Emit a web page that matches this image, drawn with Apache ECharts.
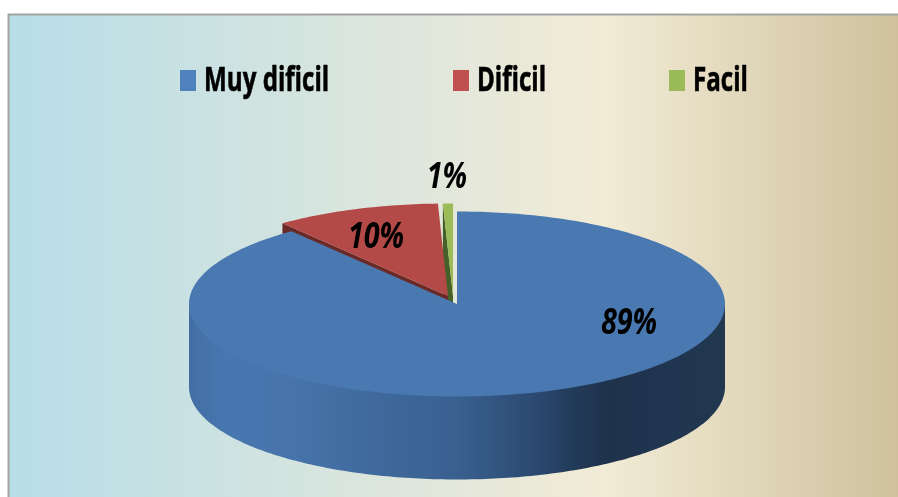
<!DOCTYPE html>
<html>
<head>
<meta charset="utf-8">
<script src="https://cdn.jsdelivr.net/npm/echarts@6/dist/echarts.min.js"></script>
<style>
  html, body { margin: 0; padding: 0; background: #fff; }
  #chart { width: 898px; height: 497px; }
</style>
</head>
<body>
<div id="chart"></div>
<script>
  // values; the labels round them
  var categories = ['Muy dificil', 'Dificil', 'Facil']
  var shares = [89.4, 10, 0.6]
  var shareLabels = ['89%', '10%', '1%']

  var colors = ['#4a78b0', '#b44a47', '#9bbb59']
  var legendColors = ['#4f81bd', '#c0504d', '#9bbb59']
  var cutColors = ['#2c4a70', '#6b2a27', '#46602a']

  // fake 3d pie layout
  var centerX = 457, centerY = 304, radiusX = 268, radiusY = 92.5, depth = 83
  var explode = [[0, 0], [-9, -8], [-4, -8]]
  var labelPos = [[629, 324], [376, 238], [447, 178]]
  var legendX = [180, 453, 669]

  // the original font is a squeezed Calibri, no narrow face here so scale it in x
  var fontFamily = '"Open Sans", Lato, sans-serif'
  var labelFont = 'italic bold 35px ' + fontFamily
  var legendFont = 'bold 34px ' + fontFamily
  var labelSqueeze = 0.82
  var legendSqueeze = 0.71

  function rimPoint(cx, cy, deg) {
    var a = deg * Math.PI / 180
    return [cx + radiusX * Math.sin(a), cy - radiusY * Math.cos(a)]
  }

  function arc(cx, cy, from, to) {
    var pts = []
    var n = Math.max(2, Math.ceil(Math.abs(to - from)))
    for (var i = 0; i <= n; i++) {
      pts.push(rimPoint(cx, cy, from + (to - from) * i / n))
    }
    return pts
  }

  function down(p) {
    return [p[0], p[1] + depth]
  }

  // blue outer wall, only the front half can be seen
  var wallFill = new echarts.graphic.LinearGradient(0, 0, 1, 0, [
    { offset: 0, color: '#426ea4' },
    { offset: 0.07, color: '#4876af' },
    { offset: 0.2, color: '#4673aa' },
    { offset: 0.5, color: '#39608f' },
    { offset: 0.63, color: '#2d4c74' },
    { offset: 0.71, color: '#233c5c' },
    { offset: 0.78, color: '#1f324c' },
    { offset: 0.88, color: '#203550' },
    { offset: 1, color: '#21384f' }
  ])

  function renderSlice(idx) {
    return function (params, api) {
      var from = api.value(0) * 3.6
      var to = api.value(1) * 3.6
      var cx = centerX + explode[idx][0]
      var cy = centerY + explode[idx][1]
      var apex = [cx, cy]
      var rim = arc(cx, cy, from, to)
      var z = (3 - idx) * 10
      var children = []

      // face left by the cut at the slice's start edge
      var edge = rim[0]
      if (idx > 0) {
        children.push({
          type: 'polygon',
          z2: z,
          shape: { points: [edge, apex, down(apex), down(edge)] },
          style: { fill: cutColors[idx] }
        })
      }
      if (idx === 0) {
        // closed straight across the middle so no seam shows under the top face
        var front = arc(cx, cy, 90, 270)
        children.push({
          type: 'polygon',
          z2: z,
          shape: { points: [front[0]].concat(front.map(down), [front[front.length - 1]]) },
          style: { fill: wallFill }
        })
      }
      children.push({
        type: 'polygon',
        z2: z + 1,
        shape: { points: [apex].concat(rim) },
        style: { fill: colors[idx] }
      })
      children.push({
        type: 'text',
        z2: 100,
        x: labelPos[idx][0],
        y: labelPos[idx][1],
        scaleX: labelSqueeze,
        style: {
          text: shareLabels[idx],
          x: 0,
          y: 0,
          align: 'center',
          verticalAlign: 'middle',
          fill: '#000',
          font: labelFont
        }
      })
      return { type: 'group', children: children }
    }
  }

  var running = 0
  var series = categories.map(function (name, i) {
    var start = running
    running += shares[i]
    return {
      name: name,
      type: 'custom',
      coordinateSystem: 'none',
      itemStyle: { color: legendColors[i] },
      renderItem: renderSlice(i),
      data: [[start, running]]
    }
  })

  var legendItems = []
  categories.forEach(function (name, i) {
    legendItems.push({
      type: 'rect',
      shape: { x: legendX[i], y: 70, width: 16, height: 21 },
      style: { fill: legendColors[i] }
    })
    legendItems.push({
      type: 'text',
      x: legendX[i] + 24,
      y: 81,
      scaleX: legendSqueeze,
      style: {
        text: name,
        x: 0,
        y: 0,
        align: 'left',
        verticalAlign: 'middle',
        fill: '#000',
        stroke: '#000',
        lineWidth: 0.6,
        font: legendFont
      }
    })
  })

  var chart = echarts.init(document.getElementById('chart'))
  chart.setOption({
    animation: false,
    graphic: [{
      type: 'rect',
      z: -1,
      shape: { x: 8.5, y: 14.5, width: 900, height: 500 },
      style: {
        stroke: '#a3a3a3',
        lineWidth: 2,
        fill: new echarts.graphic.LinearGradient(0, 0, 1, 0, [
          { offset: 0, color: '#b7dde8' },
          { offset: 0.66, color: '#f2ebd6' },
          { offset: 1, color: '#cdc09a' }
        ])
      }
    }, {
      type: 'group',
      z: 5,
      children: legendItems
    }],
    series: series
  })
</script>
</body>
</html>
